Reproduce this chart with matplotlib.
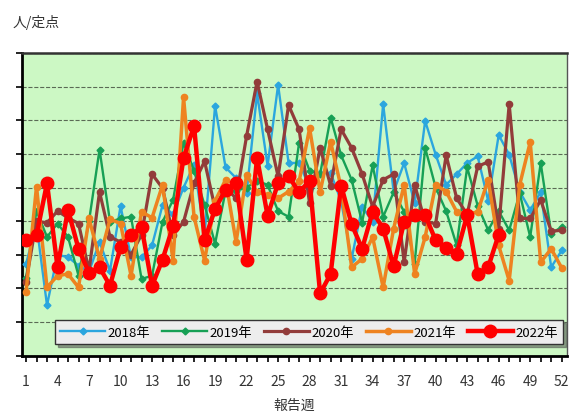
import matplotlib
matplotlib.use("Agg")
import matplotlib.pyplot as plt
import numpy as np

plt.rcParams['font.family'] = ['Noto Sans CJK JP', 'DejaVu Sans']

weeks = np.arange(1, 53)
week_ticks = np.arange(1, 53, 3)

y2018 = [2.73, 3.9, 1.5, 3.0, 2.93, 2.68, 2.5, 3.38, 2.53, 4.45,
         2.93, 2.93, 3.28, 4.48, 4.2, 5.0, 5.68, 3.6, 7.43, 5.6,
         5.28, 4.83, 7.8, 5.65, 8.05, 5.73, 5.73, 5.0, 5.43, 5.43,
         4.6, 2.88, 4.43, 3.98, 7.48, 4.88, 5.73, 4.53, 6.98, 5.98,
         5.08, 5.4, 5.73, 5.93, 4.6, 6.56, 5.98, 4.88, 4.33, 4.86,
         2.63, 3.13]
y2019 = [2.3, 4.3, 3.53, 3.93, 3.53, 2.38, 4.0, 6.13, 3.98, 4.08,
         4.13, 2.28, 2.38, 3.98, 4.63, 6.33, 5.5, 4.48, 3.33, 4.9,
         4.9, 5.0, 5.2, 5.08, 4.3, 4.13, 6.33, 5.5, 5.4, 7.08,
         5.96, 5.23, 3.96, 5.66, 4.13, 4.86, 4.28, 2.73, 6.18, 5.0,
         4.3, 3.28, 5.6, 4.46, 3.73, 4.3, 3.73, 4.83, 3.53, 5.73,
         3.63, 3.83]
y2020 = [2.2, 4.0, 3.95, 4.3, 4.1, 3.93, 2.53, 4.87, 3.53, 3.38,
         3.0, 3.6, 5.4, 4.98, 3.58, 3.98, 5.13, 5.78, 4.38, 5.0,
         4.68, 6.53, 8.15, 6.73, 5.33, 7.45, 6.73, 4.53, 6.18, 5.06,
         6.73, 6.18, 5.4, 4.43, 5.23, 5.4, 2.78, 5.08, 3.98, 3.93,
         5.96, 4.68, 4.2, 5.63, 5.76, 3.78, 7.48, 4.08, 4.08, 4.63,
         3.7, 3.73]
y2021 = [1.88, 5.03, 2.03, 2.38, 2.43, 2.03, 4.08, 2.88, 4.06, 3.93,
         2.38, 4.28, 4.1, 5.08, 2.83, 7.68, 4.13, 2.83, 4.6, 5.23,
         3.38, 5.38, 4.86, 4.78, 4.68, 4.88, 5.18, 6.76, 4.86, 6.36,
         5.0, 2.63, 2.88, 3.53, 2.03, 3.78, 5.08, 2.43, 3.53, 5.08,
         4.88, 4.28, 4.2, 4.28, 5.23, 3.28, 2.23, 5.08, 6.35, 2.78,
         3.18, 2.61]
y2022 = [3.43, 3.58, 5.13, 2.63, 4.33, 3.18, 2.46, 2.63, 2.08, 3.23,
         3.58, 3.83, 2.08, 2.86, 3.86, 5.88, 6.83, 3.43, 4.36, 4.93,
         5.13, 2.86, 5.88, 4.16, 5.13, 5.33, 4.86, 5.2, 1.85, 2.43,
         5.06, 3.91, 3.18, 4.28, 3.78, 2.66, 3.98, 4.18, 4.18, 3.43,
         3.2, 3.03, 4.18, 2.43, 2.63, 3.6]

fig = plt.figure(figsize=(5.77, 4.14), dpi=100)
ax = fig.add_axes([0.0376, 0.1384, 0.945, 0.7312])
ax.set_facecolor('#CCF8C4')

ax.plot(weeks, y2018, color='#2BA6DE', lw=1.7, marker='D', ms=3.5, label='2018年', zorder=3)
ax.plot(weeks, y2019, color='#17A055', lw=1.7, marker='D', ms=3.5, label='2019年', zorder=3)
ax.plot(weeks, y2020, color='#923C3A', lw=2.3, marker='o', ms=4.5, label='2020年', zorder=4)
ax.plot(weeks, y2021, color='#EE8320', lw=2.5, marker='o', ms=4.5, label='2021年', zorder=4)
ax.plot(weeks[:len(y2022)], y2022, color='#FF0000', lw=3.2, marker='o', ms=9, label='2022年', zorder=5)

ax.set_xlim(0.59, 52.5)
ax.set_ylim(0, 9)
ax.set_yticks(np.arange(0, 10))
ax.set_yticklabels([])
ax.yaxis.grid(True, ls='--', color='#5A6A55', lw=0.8)
ax.set_axisbelow(True)

ax.set_xticks(weeks, minor=True)
ax.set_xticks(week_ticks)
ax.set_xticklabels([str(w) for w in week_ticks], fontsize=10, color='#333333')
ax.tick_params(axis='x', which='both', direction='out', length=4, width=1.2, pad=9)
ax.tick_params(axis='y', direction='out', length=4, width=1.2)

for s in ['left', 'bottom']:
    ax.spines[s].set_linewidth(2)
    ax.spines[s].set_color('black')
ax.spines['top'].set_linewidth(1.8)
ax.spines['top'].set_color('#333333')
ax.spines['right'].set_linewidth(1.0)
ax.spines['right'].set_color('#555555')

leg = ax.legend(loc='lower left', bbox_to_anchor=(0.061, 0.039, 0.932, 0.132),
                mode='expand', ncol=5, fontsize=9.5, frameon=True, fancybox=False,
                shadow=True, handlelength=3.4, borderaxespad=0, handletextpad=0.2)
leg.get_frame().set_facecolor('#EDEDED')
leg.get_frame().set_edgecolor('#333333')
leg.get_frame().set_alpha(1)

fig.text(0.022, 0.945, '人/定点', fontsize=10, color='#333333', ha='left', va='center')
fig.text(0.51, 0.02, '報告週', fontsize=10, color='#333333', ha='center', va='center')

fig.savefig('out.png', dpi=100)
